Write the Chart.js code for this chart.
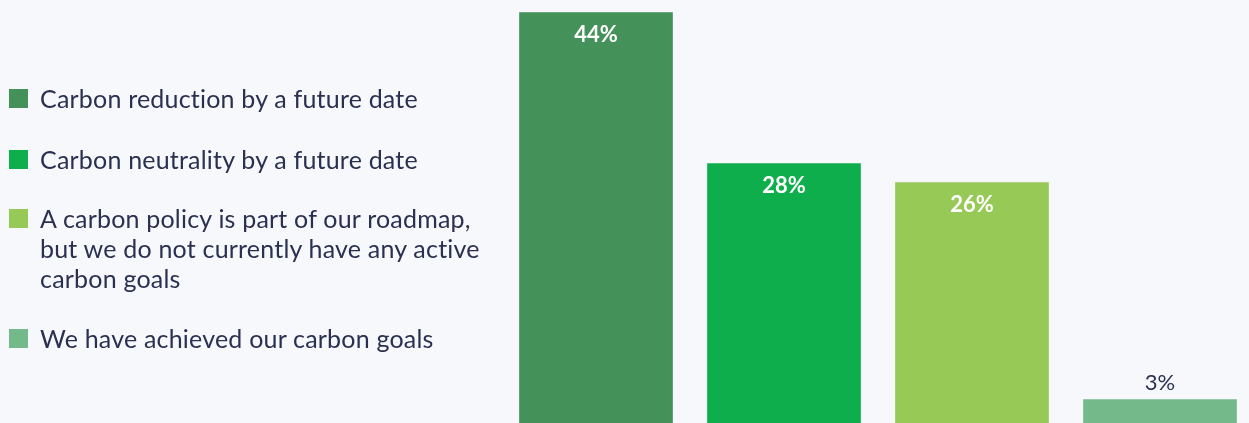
<!DOCTYPE html>
<html>
<head>
<meta charset="utf-8">
<script src="https://cdn.jsdelivr.net/npm/chart.js@4"></script>
<style>
  html, body { margin: 0; padding: 0; background: #f7f8fc; overflow: hidden; }
  #wrap { position: relative; width: 1249px; height: 423px; overflow: hidden; }
  #chart-box { position: absolute; left: 0; top: 0; width: 1256px; height: 428px; }
  #legend { position: absolute; left: 0; top: 0; font-family: Lato, "Noto Sans", sans-serif; font-size: 25px; letter-spacing: 0.2px; color: #2a3050; }
  .item { position: absolute; left: 40px; line-height: 30px; white-space: nowrap; }
  .box { position: absolute; left: -31px; top: 6px; width: 19px; height: 19px; }
</style>
</head>
<body>
<div id="wrap">
  <div id="chart-box"><canvas id="bars"></canvas></div>
  <div id="legend"></div>
</div>
<script>
// Survey answers: share of respondents per carbon goal
const answers = [
    ['Carbon reduction by a future date'],
    ['Carbon neutrality by a future date'],
    ['A carbon policy is part of our roadmap,', 'but we do not currently have any active', 'carbon goals'],
    ['We have achieved our carbon goals']
];
const shares = [44, 28, 26, 3];
const barColors = ['#45915a', '#0fae4c', '#96c956', '#74b98a'];
const legendTops = [83, 144, 203, 323];

// Build the legend on the left
const legendDiv = document.getElementById('legend');
answers.forEach((lines, i) => {
    const item = document.createElement('div');
    item.className = 'item';
    item.style.top = legendTops[i] + 'px';
    const box = document.createElement('span');
    box.className = 'box';
    box.style.background = barColors[i];
    item.appendChild(box);
    item.appendChild(document.createTextNode(lines[0]));
    for (let k = 1; k < lines.length; k++) {
        item.appendChild(document.createElement('br'));
        item.appendChild(document.createTextNode(lines[k]));
    }
    legendDiv.appendChild(item);
});

// Percent labels: inside the bar top for tall bars, above for short ones
const valueLabels = {
    id: 'valueLabels',
    afterDatasetsDraw(chart) {
        const ctx = chart.ctx;
        const meta = chart.getDatasetMeta(0);
        ctx.save();
        ctx.textAlign = 'center';
        ctx.textBaseline = 'middle';
        meta.data.forEach((bar, i) => {
            const v = shares[i];
            if (v >= 10) {
                ctx.font = 'bold 22px Lato, "Noto Sans", sans-serif';
                ctx.fillStyle = '#ffffff';
                ctx.fillText(v + '%', bar.x, bar.y + 22);
            } else {
                ctx.font = '22px Lato, "Noto Sans", sans-serif';
                ctx.fillStyle = '#2a3050';
                ctx.fillText(v + '%', bar.x, bar.y - 17);
            }
        });
        ctx.restore();
    }
};

new Chart(document.getElementById('bars'), {
    type: 'bar',
    data: {
        labels: answers.map(a => a.join(' ')),
        datasets: [{
            data: shares,
            backgroundColor: barColors,
            borderWidth: 0,
            barThickness: 153
        }]
    },
    options: {
        responsive: true,
        maintainAspectRatio: false,
        animation: false,
        layout: { padding: { left: 502, right: 2, top: 0, bottom: 0 } },
        plugins: {
            legend: { display: false },
            tooltip: { enabled: false }
        },
        scales: {
            x: { display: false },
            y: { display: false, min: 0, max: 45.34 }
        }
    },
    plugins: [valueLabels]
});
</script>
</body>
</html>
